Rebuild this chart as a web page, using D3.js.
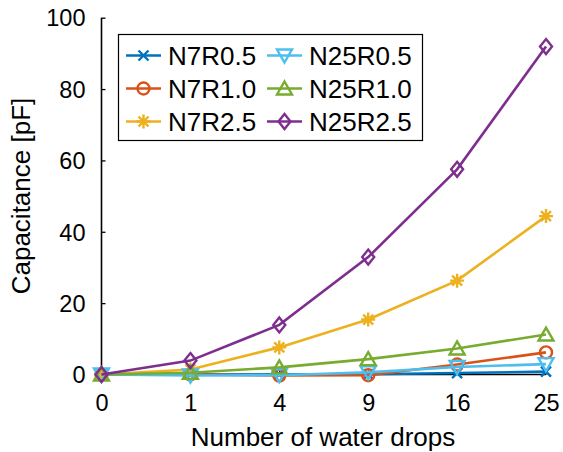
<!DOCTYPE html>
<html>
<head>
<meta charset="utf-8">
<script src="https://cdn.jsdelivr.net/npm/d3@7"></script>
<style>
  body { margin: 0; background: #fff; }
  text { font-family: "Liberation Sans", Arial, sans-serif; fill: #000; }
</style>
</head>
<body>
<script>
// data
var dropLabels = ["0", "1", "4", "9", "16", "25"];
var seriesNames = ["N7R0.5", "N7R1.0", "N7R2.5", "N25R0.5", "N25R1.0", "N25R2.5"];
var n7r05  = [0, 0, 0, 0.05, 0.4, 0.8];
var n7r10  = [0, 0, -0.3, -0.2, 2.8, 6.2];
var n7r25  = [0, 1.4, 7.6, 15.4, 26.3, 44.4];
var n25r05 = [0, -0.3, -0.2, 0.6, 2.1, 2.9];
var n25r10 = [0, 0.5, 2.0, 4.3, 7.3, 11.2];
var n25r25 = [0, 3.9, 13.9, 32.9, 57.5, 91.9];
var yTicks = [0, 20, 40, 60, 80, 100];

(function(){
    var width = 563, height = 452;
    var colors = ["#0072BD", "#D95319", "#EDB120", "#4DBEEE", "#77AC30", "#7E2F8E"];
    var markers = ["x", "circle", "star", "down", "up", "diamond"];
    var values = [n7r05, n7r10, n7r25, n25r05, n25r10, n25r25];

    var svg = d3.select("body").append("svg")
        .attr("width", width)
        .attr("height", height);

    var x = d3.scalePoint().domain(dropLabels).range([101.5, 546]);
    var y = d3.scaleLinear().domain([0, 100]).range([374.5, 17.7]);

    // marker path generator, centered on 0,0
    function markerPath(kind){
        var p = d3.path();
        if (kind == "x"){
            p.moveTo(-5,-5); p.lineTo(5,5);
            p.moveTo(-5,5); p.lineTo(5,-5);
        } else if (kind == "circle"){
            p.arc(0, 0, 6, 0, 2*Math.PI);
        } else if (kind == "star"){
            p.moveTo(-7,0); p.lineTo(7,0);
            p.moveTo(0,-7); p.lineTo(0,7);
            p.moveTo(-5,-5); p.lineTo(5,5);
            p.moveTo(-5,5); p.lineTo(5,-5);
        } else if (kind == "up"){
            p.moveTo(0,-7); p.lineTo(7.5,6); p.lineTo(-7.5,6); p.closePath();
        } else if (kind == "down"){
            p.moveTo(0,7); p.lineTo(7.5,-6); p.lineTo(-7.5,-6); p.closePath();
        } else if (kind == "diamond"){
            p.moveTo(0,-7.5); p.lineTo(6,0); p.lineTo(0,7.5); p.lineTo(-6,0); p.closePath();
        }
        return p.toString();
    }

    // axes
    var yAxis = d3.axisRight(y).tickValues(yTicks).tickSize(4).tickFormat(d3.format("d"));
    var gy = svg.append("g").attr("transform", "translate(101.5,0)").call(yAxis);
    gy.select(".domain").remove();
    gy.selectAll("line").attr("stroke", "#000").attr("stroke-width", 1.3);
    gy.selectAll("text").attr("x", -16).attr("text-anchor", "end")
        .attr("dy", "0.35em").style("font-size", "23.5px");
    svg.append("line").attr("x1", 101.5).attr("x2", 101.5)
        .attr("y1", y(100)).attr("y2", y(0))
        .attr("stroke", "#000").attr("stroke-width", 1.6);

    var xAxis = d3.axisTop(x).tickSize(4);
    var gx = svg.append("g").attr("transform", "translate(0," + y(0) + ")").call(xAxis);
    gx.select(".domain").remove();
    gx.selectAll("line").attr("stroke", "#000").attr("stroke-width", 1.3);
    gx.selectAll("text").attr("y", 36).attr("dy", 0).style("font-size", "23.5px");
    svg.append("line").attr("x1", 101.5).attr("x2", 546)
        .attr("y1", y(0)).attr("y2", y(0))
        .attr("stroke", "#000").attr("stroke-width", 1.6);

    // axis titles
    svg.append("text")
        .attr("x", 323).attr("y", 446)
        .attr("text-anchor", "middle")
        .style("font-size", "26px")
        .text("Number of water drops");
    svg.append("text")
        .attr("transform", "translate(30,196) rotate(-90)")
        .attr("text-anchor", "middle")
        .style("font-size", "26px")
        .text("Capacitance [pF]");

    // series
    var line = d3.line()
        .x(function(d, i){ return x(dropLabels[i]); })
        .y(function(d){ return y(d); });

    values.forEach(function(vals, s){
        var g = svg.append("g").attr("class", "series");
        g.append("path")
            .attr("d", line(vals))
            .attr("fill", "none")
            .attr("stroke", colors[s])
            .attr("stroke-width", 2.6);
        g.selectAll(".mk")
            .data(vals)
            .enter()
            .append("path")
            .attr("class", "mk")
            .attr("transform", function(d, i){ return "translate(" + x(dropLabels[i]) + "," + y(d) + ")"; })
            .attr("d", markerPath(markers[s]))
            .attr("fill", "none")
            .attr("stroke", colors[s])
            .attr("stroke-width", 2.4);
    });

    // legend
    var legend = svg.append("g");
    legend.append("rect")
        .attr("x", 118.5).attr("y", 34.5)
        .attr("width", 304).attr("height", 106)
        .attr("fill", "#fff")
        .attr("stroke", "#000")
        .attr("stroke-width", 1.2);

    var colX = [126, 267];
    var rowY = [55.5, 88.5, 121.5];
    seriesNames.forEach(function(name, s){
        var cx = colX[Math.floor(s / 3)], cy = rowY[s % 3];
        legend.append("line")
            .attr("x1", cx).attr("x2", cx + 35)
            .attr("y1", cy).attr("y2", cy)
            .attr("stroke", colors[s]).attr("stroke-width", 2.6);
        legend.append("path")
            .attr("transform", "translate(" + (cx + 17.5) + "," + cy + ")")
            .attr("d", markerPath(markers[s]))
            .attr("fill", "none")
            .attr("stroke", colors[s])
            .attr("stroke-width", 2.4);
        legend.append("text")
            .attr("x", cx + 42).attr("y", cy)
            .attr("dy", "0.36em")
            .style("font-size", "26px")
            .text(name);
    });
})();
</script>
</body>
</html>
